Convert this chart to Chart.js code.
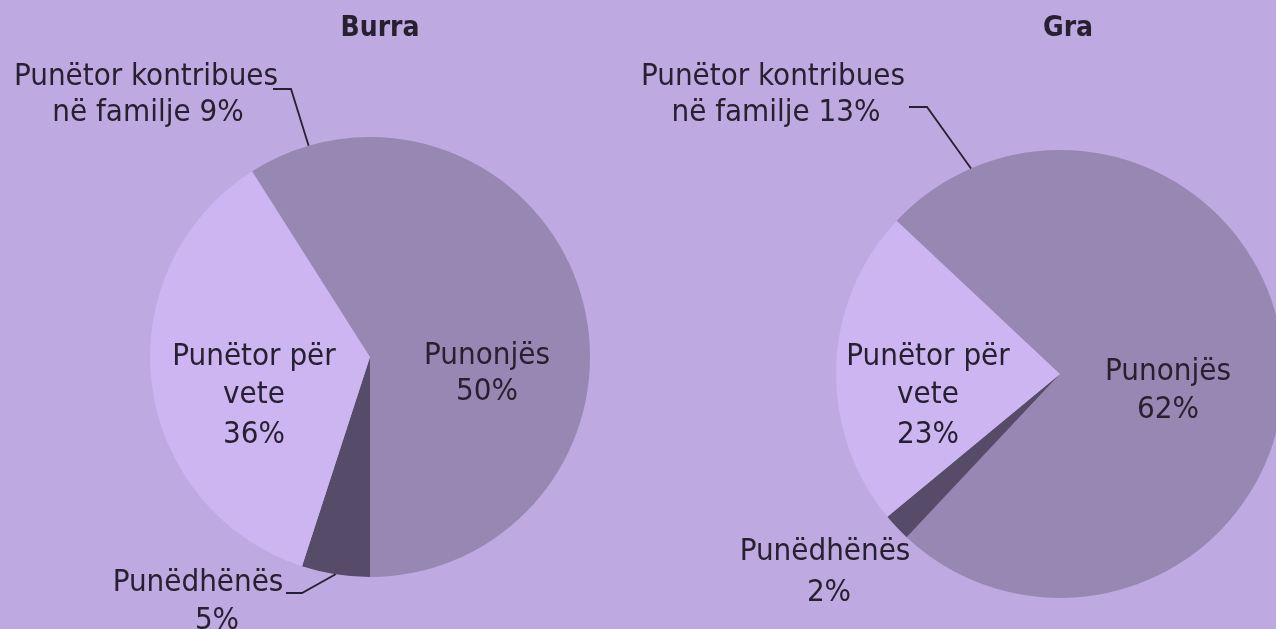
<!DOCTYPE html>
<html>
<head>
<meta charset="utf-8">
<script src="https://cdn.jsdelivr.net/npm/chart.js@4.4.1/dist/chart.umd.min.js"></script>
<style>
  html, body { margin: 0; padding: 0; width: 1276px; height: 629px; overflow: hidden; background: #bea9e0; }
  .pie-box { position: absolute; top: 0; height: 629px; }
  #burraBox { left: 0; width: 638px; }
  #graBox { left: 638px; width: 680px; }
</style>
</head>
<body>
<div id="burraBox" class="pie-box"><canvas id="burraCanvas"></canvas></div>
<div id="graBox" class="pie-box"><canvas id="graCanvas"></canvas></div>
<script>
// Shares of employment status (%), by sex
const categories = ['Punonjës', 'Punëdhënës', 'Punëtor për vete', 'Punëtor kontribues në familje'];
const burraValues = [50, 5, 36, 9];
const graValues = [62, 2, 23, 13];
const chartTitles = ['Burra', 'Gra'];

// how each category's label is broken into lines; {v} gets the share
const labelLines = [
  ['Punonjës', '{v}%'],
  ['Punëdhënës', '{v}%'],
  ['Punëtor për', 'vete', '{v}%'],
  ['Punëtor kontribues', 'në familje {v}%'],
];

const sliceColors = ['#9787b3', '#564b69', '#ccb5f0', '#9787b3'];
const TEXT_COLOR = '#272030';
const FONT_FAMILY = '"DejaVu Sans Condensed", "DejaVu Sans", sans-serif';

// Layout per chart: label line centres and leader elbows, relative to the pie centre
const layouts = {
  burraCanvas: {
    padding: { left: 150, top: 137, right: 48, bottom: 52 },
    titleOffset: [10, -328],
    labels: [
      [[117, -1], [117, 35]],
      [[-172, 226], [-153, 264]],
      [[-116, 0], [-116, 38], [-116, 78]],
      [[-224, -280], [-222, -244]],
    ],
    leaders: {
      1: [[-84, 236], [-68, 236]],
      3: [[-97, -268], [-79, -268]],
    },
  },
  graCanvas: {
    padding: { left: 198, top: 150, right: 34, bottom: 31 },
    titleOffset: [8, -345],
    labels: [
      [[108, -2], [108, 36]],
      [[-235, 178], [-231, 219]],
      [[-132, -17], [-132, 21], [-132, 61]],
      [[-287, -297], [-284, -261]],
    ],
    leaders: {
      3: [[-151, -267], [-133, -267]],
    },
  },
};

// Draws title, slice labels and leader lines
const pieLabels = {
  id: 'pieLabels',
  afterDraw(chart) {
    const lay = layouts[chart.canvas.id];
    const arcs = chart.getDatasetMeta(0).data;
    if (!lay || !arcs.length) return;
    const cx = arcs[0].x, cy = arcs[0].y, r = arcs[0].outerRadius;
    const ctx = chart.ctx;
    const values = chart.data.datasets[0].data;
    ctx.save();
    ctx.fillStyle = TEXT_COLOR;
    ctx.strokeStyle = TEXT_COLOR;
    ctx.textAlign = 'center';
    ctx.textBaseline = 'middle';

    ctx.font = 'bold 28px ' + FONT_FAMILY;
    ctx.fillText(chart.options.plugins.pieLabels.title, cx + lay.titleOffset[0], cy + lay.titleOffset[1]);

    ctx.font = '31px ' + FONT_FAMILY;
    arcs.forEach((arc, i) => {
      labelLines[i].forEach((line, j) => {
        const pos = lay.labels[i][j];
        ctx.fillText(line.replace('{v}', values[i]), cx + pos[0], cy + pos[1]);
      });
      const elbow = lay.leaders[i];
      if (elbow) {
        const mid = (arc.startAngle + arc.endAngle) / 2;
        ctx.lineWidth = 1.8;
        ctx.beginPath();
        ctx.moveTo(cx + elbow[0][0], cy + elbow[0][1]);
        ctx.lineTo(cx + elbow[1][0], cy + elbow[1][1]);
        ctx.lineTo(cx + Math.cos(mid) * r, cy + Math.sin(mid) * r);
        ctx.stroke();
      }
    });
    ctx.restore();
  },
};

function createPie(canvasId, values, title) {
  const ctx = document.getElementById(canvasId);
  return new Chart(ctx, {
    type: 'pie',
    data: {
      labels: categories,
      datasets: [{
        data: values,
        backgroundColor: sliceColors,
        borderWidth: 0,
        hoverOffset: 0,
      }],
    },
    options: {
      responsive: true,
      maintainAspectRatio: false,
      animation: false,
      events: [],
      layout: { padding: layouts[canvasId].padding },
      plugins: {
        legend: { display: false },
        tooltip: { enabled: false },
        pieLabels: { title },
      },
    },
    plugins: [pieLabels],
  });
}

createPie('burraCanvas', burraValues, chartTitles[0]);
createPie('graCanvas', graValues, chartTitles[1]);
</script>
</body>
</html>
